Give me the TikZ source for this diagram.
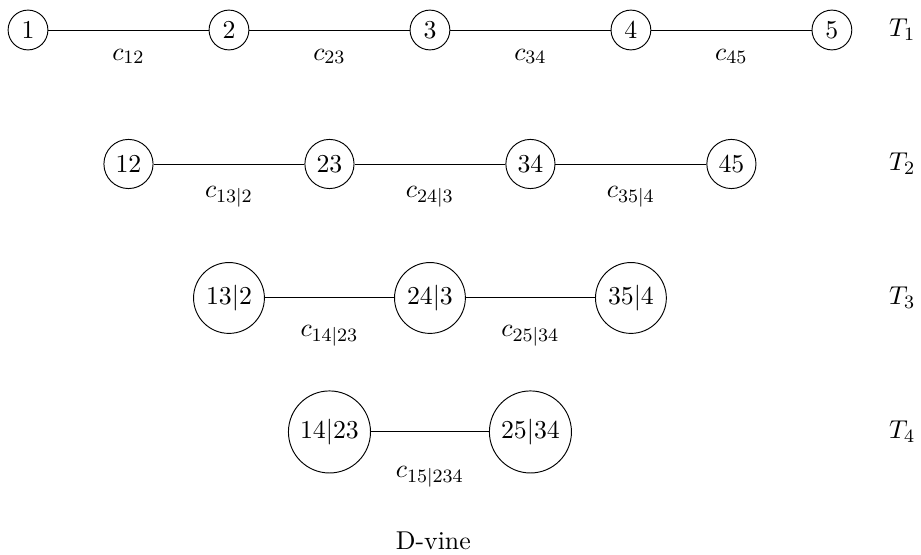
\documentclass[tikz,border=0pt]{standalone}
\begin{document}
\begin{tikzpicture}[
  every node/.style={font=\fontsize{10.95}{13.6}\selectfont},
  vnode/.style={draw,circle,inner sep=1mm},
  elab/.style={anchor=base},
  tlab/.style={anchor=center}
]
\useasboundingbox (-0.418,0.448) rectangle (13.33,-7.835);
% T1
\node[vnode] (a1) at (0,0) {$1$};
\node[vnode] (a2) at (3,0) {$2$};
\node[vnode] (a3) at (6,0) {$3$};
\node[vnode] (a4) at (9,0) {$4$};
\node[vnode] (a5) at (12,0) {$5$};
\draw (a1) -- (a2);
\draw (a2) -- (a3);
\draw (a3) -- (a4);
\draw (a4) -- (a5);
\node[elab] (l12) at (1.5,-0.448) {$c_{12}$};
\node[elab] (l23) at (4.5,-0.448) {$c_{23}$};
\node[elab] (l34) at (7.5,-0.448) {$c_{34}$};
\node[elab] (l45) at (10.5,-0.448) {$c_{45}$};
\node[tlab] (t1) at (13.05,0) {$T_1$};
% T2
\node[vnode] (b1) at (1.5,-2) {$12$};
\node[vnode] (b2) at (4.5,-2) {$23$};
\node[vnode] (b3) at (7.5,-2) {$34$};
\node[vnode] (b4) at (10.5,-2) {$45$};
\draw (b1) -- (b2);
\draw (b2) -- (b3);
\draw (b3) -- (b4);
\node[elab] (l132) at (3,-2.50) {$c_{13|2}$};
\node[elab] (l243) at (6,-2.50) {$c_{24|3}$};
\node[elab] (l354) at (9,-2.50) {$c_{35|4}$};
\node[tlab] (t2) at (13.05,-2) {$T_2$};
% T3
\node[vnode] (c1) at (3,-4) {$13|2$};
\node[vnode] (c2) at (6,-4) {$24|3$};
\node[vnode] (c3) at (9,-4) {$35|4$};
\draw (c1) -- (c2);
\draw (c2) -- (c3);
\node[elab] (l1423) at (4.5,-4.57) {$c_{14|23}$};
\node[elab] (l2534) at (7.5,-4.57) {$c_{25|34}$};
\node[tlab] (t3) at (13.05,-4) {$T_3$};
% T4
\node[vnode] (d1) at (4.5,-6) {$14|23$};
\node[vnode] (d2) at (7.5,-6) {$25|34$};
\draw (d1) -- (d2);
\node[elab] (l15234) at (6,-6.68) {$c_{15|234}$};
\node[tlab] (t4) at (13.05,-6) {$T_4$};
% caption
\node[anchor=base] (cap) at (6.05,-7.76) {D-vine};
\end{tikzpicture}
\end{document}
